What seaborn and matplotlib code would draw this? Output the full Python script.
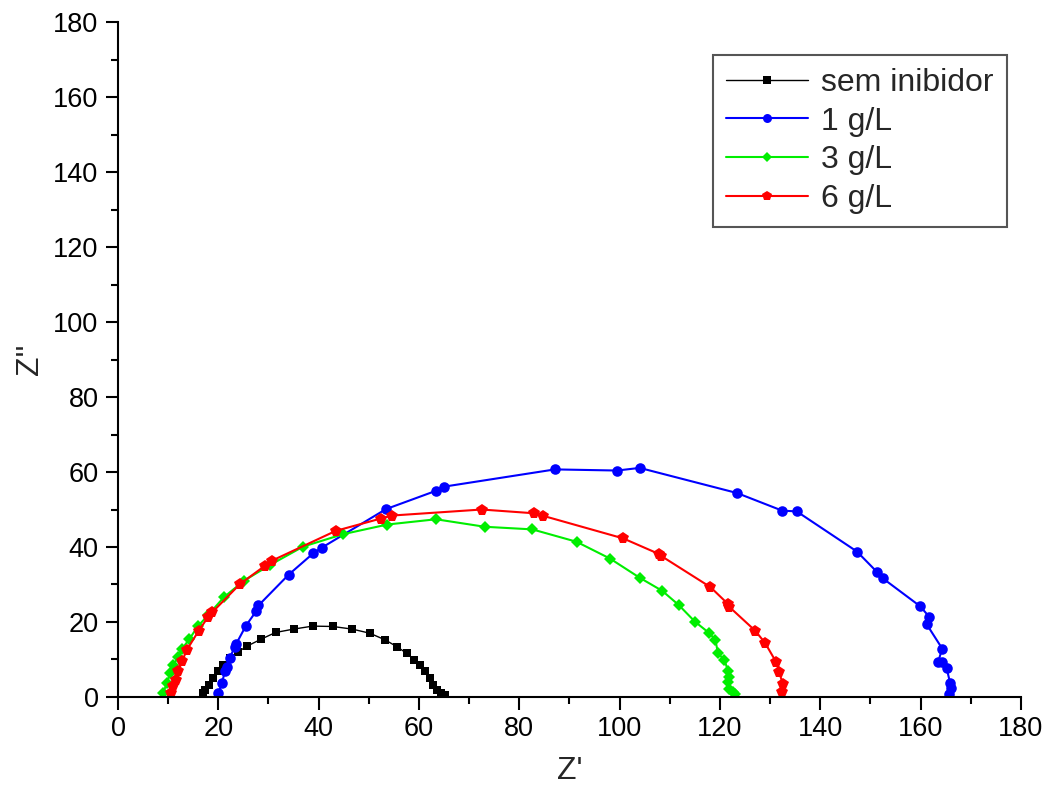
import numpy as np
import pandas as pd
import matplotlib
matplotlib.use("Agg")
import matplotlib.pyplot as plt
import seaborn as sns
from matplotlib.ticker import MultipleLocator

# ---- data (Nyquist plot) ----
x_sem = [17.0, 17.3, 18.2, 19.0, 20.0, 21.0, 22.3, 24.0, 25.8, 28.5, 31.4, 35.0, 38.8,
         42.8, 46.7, 50.2, 53.3, 55.6, 57.6, 59.1, 60.2, 61.2, 62.1, 62.7, 63.5, 64.4, 65.2]
y_sem = [1.0, 1.9, 3.2, 5.0, 6.8, 8.5, 10.3, 12.1, 13.6, 15.4, 17.2, 18.1, 18.9,
         18.8, 18.1, 17.0, 15.2, 13.4, 11.6, 9.9, 8.4, 6.8, 5.0, 3.2, 1.9, 1.0, 0.5]

x_1 = [20.0, 20.7, 21.3, 21.7, 22.3, 23.3, 23.5, 25.5, 27.5, 28.0, 34.0, 38.9, 40.6,
       53.4, 63.4, 65.0, 87.1, 99.5, 104.0, 123.4, 132.4, 135.3, 147.3, 151.4, 152.4,
       159.9, 161.7, 161.2, 164.3, 163.5, 164.2, 165.2, 165.9, 166.0, 165.7]
y_1 = [1.0, 3.6, 6.8, 8.1, 10.5, 13.4, 14.0, 19.0, 22.8, 24.4, 32.6, 38.3, 39.8,
       50.1, 55.0, 56.1, 60.7, 60.4, 61.1, 54.4, 49.7, 49.5, 38.8, 33.2, 31.7,
       24.2, 21.4, 19.4, 12.9, 9.4, 9.2, 7.6, 3.6, 2.3, 0.8]

x_3 = [9.0, 9.7, 10.4, 11.0, 12.0, 12.7, 14.2, 15.9, 18.0, 21.1, 25.1, 30.3, 36.9,
       44.8, 53.7, 63.4, 73.1, 82.6, 91.4, 98.1, 104.0, 108.5, 111.8, 115.0, 117.9,
       119.1, 119.6, 120.9, 121.6, 121.8, 121.6, 121.8, 122.6, 123.0]
y_3 = [1.0, 3.6, 6.3, 8.5, 10.7, 12.7, 15.4, 18.8, 21.9, 26.6, 31.0, 35.2, 40.1,
       43.4, 46.0, 47.4, 45.4, 44.7, 41.4, 36.9, 31.8, 28.3, 24.5, 20.1, 17.0,
       15.2, 11.6, 9.9, 6.9, 5.4, 4.1, 2.0, 1.3, 0.8]

x_6 = [10.5, 11.0, 11.6, 12.0, 12.8, 13.7, 16.1, 18.0, 18.8, 24.3, 29.3, 30.6, 43.4,
       52.4, 54.7, 72.5, 82.9, 84.8, 100.7, 107.9, 108.3, 118.1, 121.6, 121.8, 127.0,
       129.0, 131.2, 131.8, 132.5, 132.4]
y_6 = [1.0, 2.8, 4.5, 6.8, 9.6, 12.5, 17.7, 21.4, 22.6, 30.1, 35.0, 36.3, 44.3,
       47.6, 48.4, 50.0, 49.0, 48.3, 42.3, 38.1, 37.6, 29.3, 24.8, 24.1, 17.7,
       14.4, 9.3, 6.7, 3.5, 1.4]

labels = ["sem inibidor", "1 g/L", "3 g/L", "6 g/L"]
x_ticks = [0, 20, 40, 60, 80, 100, 120, 140, 160, 180]
y_ticks = [0, 20, 40, 60, 80, 100, 120, 140, 160, 180]

# ---- style ----
sns.set_theme(style="ticks")
plt.rcParams['font.family'] = ['Liberation Sans', 'DejaVu Sans']

fig = plt.figure(figsize=(10.48, 7.92), dpi=100)
ax = fig.add_axes([0.1126, 0.12, 0.8616, 0.852])

series = [
    (x_sem, y_sem, labels[0], "black", "s", 6.0, 1.0),
    (x_1, y_1, labels[1], "#0000ff", "o", 7.6, 1.5),
    (x_3, y_3, labels[2], "#00ee00", "D", 6.3, 1.5),
    (x_6, y_6, labels[3], "#ff0000", "p", 8.4, 1.5),
]
for xs, ys, lab, col, mk, ms, lw in series:
    df = pd.DataFrame({"x": xs, "y": ys})
    sns.lineplot(data=df, x="x", y="y", ax=ax, sort=False, estimator=None,
                 color=col, marker=mk, markersize=ms, markeredgewidth=0,
                 linewidth=lw, label=lab)

ax.set_xlim(0, 180)
ax.set_ylim(0, 180)
ax.set_xticks(x_ticks)
ax.set_yticks(y_ticks)
ax.xaxis.set_minor_locator(MultipleLocator(10))
ax.yaxis.set_minor_locator(MultipleLocator(10))
ax.tick_params(which="major", direction="out", length=9, width=1.5, labelsize=19.5,
               color="black", labelcolor="black", pad=5)
ax.tick_params(which="minor", direction="out", length=5, width=1.5, color="black")
for s in ["top", "right"]:
    ax.spines[s].set_visible(False)
for s in ["left", "bottom"]:
    ax.spines[s].set_linewidth(1.5)
    ax.spines[s].set_color("black")

ax.set_xlabel("Z'", fontsize=23, labelpad=10)
ax.set_ylabel("Z''", fontsize=23, labelpad=6)

leg = ax.legend(loc="upper left", bbox_to_anchor=(0.659, 0.952), fontsize=23,
                frameon=True, fancybox=False, edgecolor="#555555", framealpha=1,
                handlelength=2.55, handletextpad=0.4, borderpad=0.42,
                labelspacing=0.27, borderaxespad=0, markerscale=0.85)
leg.get_frame().set_linewidth(1.5)

fig.savefig("out.png", dpi=100)
